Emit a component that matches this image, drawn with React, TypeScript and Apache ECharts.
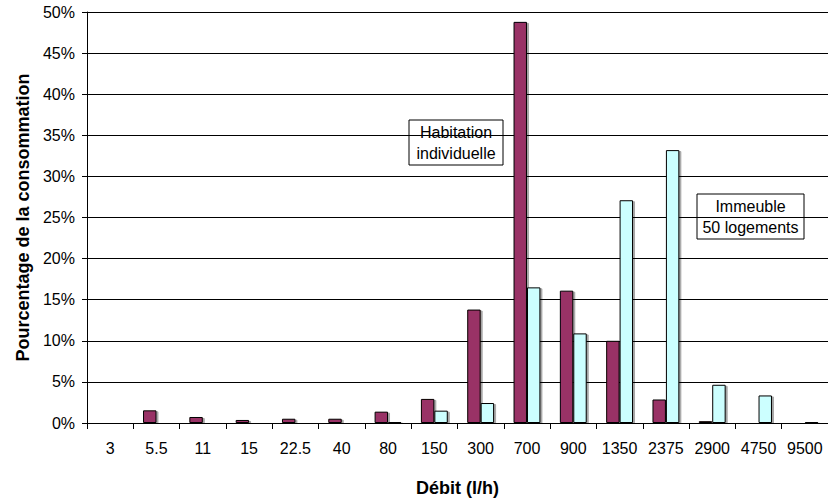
import React, { useEffect, useRef } from "react";
import * as echarts from "echarts";

// Flow-rate classes (l/h)
const categories = [
  "3", "5.5", "11", "15", "22.5", "40", "80", "150",
  "300", "700", "900", "1350", "2375", "2900", "4750", "9500",
];

// Share of total consumption per flow class, in %
const habitationIndividuelle = [
  0, 1.54, 0.73, 0.37, 0.52, 0.52, 1.38, 2.93,
  13.8, 48.8, 16.1, 10.0, 2.86, 0.22, 0, 0,
];
const immeuble50Logements = [
  0, 0, 0, 0, 0, 0, 0.15, 1.5,
  2.43, 16.5, 10.9, 27.1, 33.2, 4.65, 3.35, 0.15,
];

const yTicks = { min: 0, max: 50, interval: 5 };

const FONT = '"Liberation Sans", Arial, sans-serif';

const barShadow = {
  shadowColor: "rgba(0,0,0,0.35)",
  shadowBlur: 1,
  shadowOffsetX: 2,
  shadowOffsetY: 1,
};

function labelBox(x: number, y: number, w: number, h: number, text: string) {
  return {
    type: "group",
    x,
    y,
    children: [
      {
        type: "rect",
        shape: { x: 0, y: 0, width: w, height: h },
        style: { fill: "#fff", stroke: "#000", lineWidth: 1 },
      },
      {
        type: "text",
        x: w / 2,
        y: h / 2,
        style: {
          text,
          fill: "#000",
          font: `16px ${FONT}`,
          align: "center",
          verticalAlign: "middle",
          lineHeight: 21,
        },
      },
    ],
  };
}

export default function App() {
  const ref = useRef<HTMLDivElement>(null);

  useEffect(() => {
    if (!ref.current) return;
    const chart = echarts.init(ref.current, undefined, { renderer: "svg" });
    chart.setOption({
      animation: false,
      backgroundColor: "#fff",
      textStyle: { fontFamily: FONT },
      grid: { left: 87, right: -3, top: 12, bottom: 78, containLabel: false },
      xAxis: {
        type: "category",
        data: categories,
        name: "Débit (l/h)",
        nameLocation: "middle",
        nameGap: 56,
        nameTextStyle: { fontFamily: FONT, fontSize: 18, fontWeight: "bold", color: "#000" },
        axisLine: { lineStyle: { color: "#000", width: 1 } },
        axisTick: { show: true, alignWithLabel: false, length: 6, lineStyle: { color: "#000" } },
        axisLabel: { fontFamily: FONT, fontSize: 16, color: "#000", margin: 17, interval: 0 },
        splitLine: { show: false },
      },
      yAxis: {
        type: "value",
        min: yTicks.min,
        max: yTicks.max,
        interval: yTicks.interval,
        name: "Pourcentage de la consommation",
        nameLocation: "middle",
        nameGap: 55,
        nameTextStyle: { fontFamily: FONT, fontSize: 18, fontWeight: "bold", color: "#000" },
        axisLine: { show: true, lineStyle: { color: "#000", width: 1 } },
        axisTick: { show: true, length: 5, lineStyle: { color: "#000" } },
        axisLabel: {
          fontFamily: FONT,
          fontSize: 16,
          color: "#000",
          margin: 12,
          formatter: "{value}%",
        },
        splitLine: { show: true, lineStyle: { color: "#000", width: 1 } },
      },
      series: [
        {
          name: "Habitation individuelle",
          type: "bar",
          data: habitationIndividuelle,
          barGap: "0%",
          barCategoryGap: "42%",
          itemStyle: { color: "#993366", borderColor: "#000", borderWidth: 1, ...barShadow },
        },
        {
          name: "Immeuble 50 logements",
          type: "bar",
          data: immeuble50Logements,
          barGap: "0%",
          barCategoryGap: "42%",
          itemStyle: { color: "#CCFFFF", borderColor: "#000", borderWidth: 1, ...barShadow },
        },
      ],
      graphic: [
        labelBox(409, 120, 94, 45, "Habitation\nindividuelle"),
        labelBox(697, 194, 107, 45, "Immeuble\n50 logements"),
      ],
    });
    return () => chart.dispose();
  }, []);

  return (
    <div
      ref={ref}
      style={{ position: "fixed", left: 0, top: 0, width: 828, height: 502, background: "#fff" }}
    />
  );
}
